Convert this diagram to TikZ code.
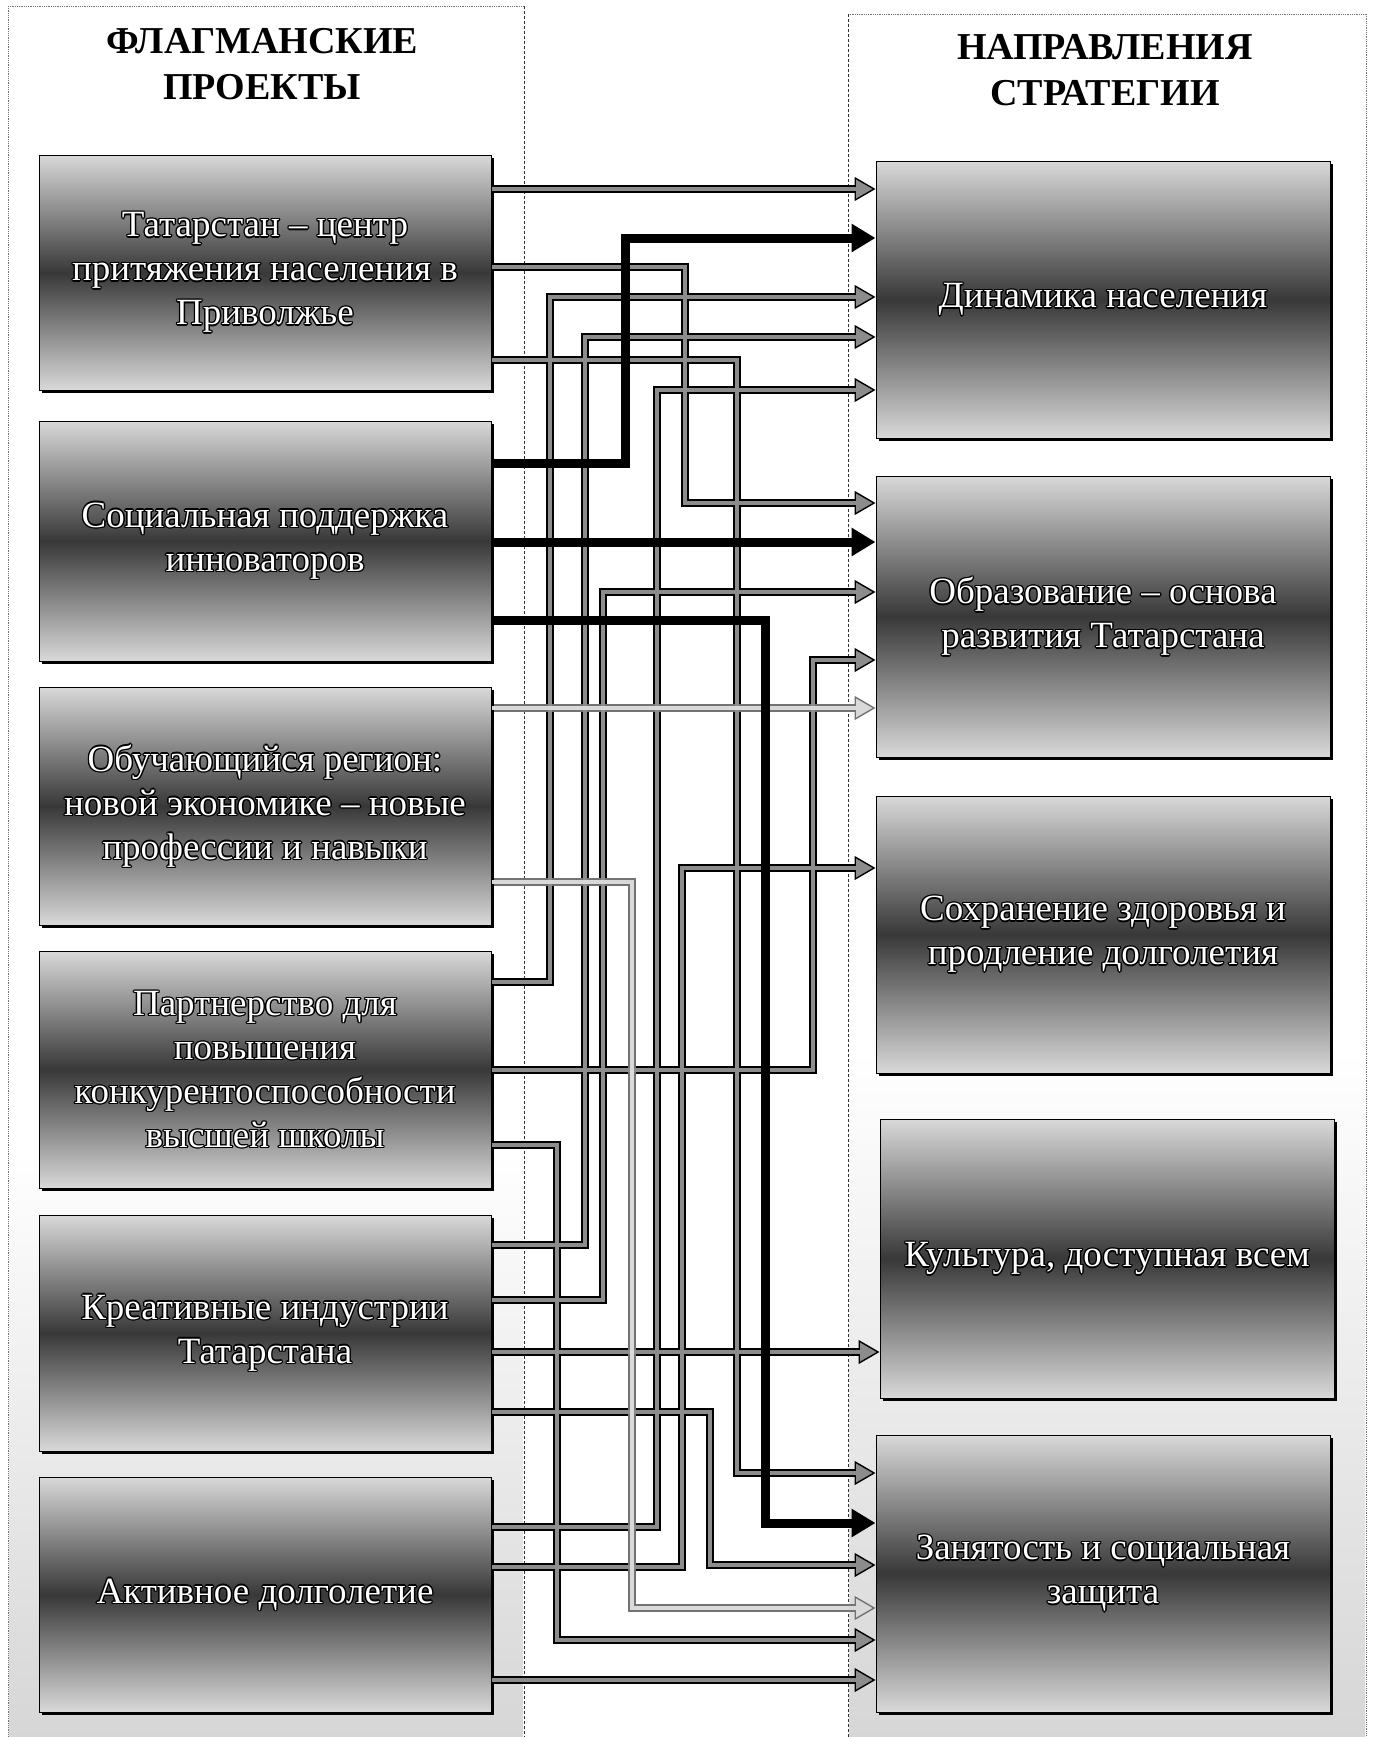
\documentclass[tikz,border=0pt]{standalone}
\usepackage{fontspec}
\setmainfont{Liberation Serif}
\usetikzlibrary{arrows.meta,shadows}
\pgfdeclarelayer{bg}
\pgfdeclarelayer{cb}
\pgfsetlayers{bg,cb,main}
\newlength\otw
\setlength\otw{1.4pt}
\newcommand\otxc[3]{\rlap{\hspace*{#1}\raisebox{#2}{\textcolor{black}{#3}}}}
\newcommand\otx[1]{\otxc{\otw}{0pt}{#1}\otxc{-\otw}{0pt}{#1}\otxc{0pt}{\otw}{#1}\otxc{0pt}{-\otw}{#1}%
\otxc{.7\otw}{.7\otw}{#1}\otxc{-.7\otw}{.7\otw}{#1}\otxc{.7\otw}{-.7\otw}{#1}\otxc{-.7\otw}{-.7\otw}{#1}%
\textcolor{white}{#1}}
\newcommand\gcon[2]{\begin{pgfonlayer}{cb}\draw[#1bord] #2;\end{pgfonlayer}\draw[#1inner] #2;}
\begin{document}
\begin{tikzpicture}[x=1pt,y=-1pt,
  box/.style={draw=black, line width=1pt, top color=black!15, bottom color=black!15, middle color=black!78,
    drop shadow={shadow xshift=3pt, shadow yshift=-3pt, fill=black, opacity=1},
    align=center, font=\fontsize{37}{44}\selectfont, inner sep=4pt},
  lbox/.style={box, minimum width=452pt},
  rbox/.style={box, minimum width=454pt},
  head/.style={align=center, font=\bfseries\fontsize{38}{46}\selectfont},
  frm/.style={draw=black!55, densely dotted, line width=0.8pt},
  midl/.style={draw=black!80, densely dashed, line width=0.9pt},
  gbord/.style={draw=black, line width=8pt, -{Triangle[length=21pt,width=24pt,fill=black!45,line width=1.4pt]}},
  ginner/.style={draw=black!45, line width=4pt, shorten >=19pt},
  lbord/.style={draw=black!55, line width=8pt, -{Triangle[length=21pt,width=24pt,fill=black!15,line width=1.4pt]}},
  linner/.style={draw=black!15, line width=4pt, shorten >=19pt},
  thk/.style={draw=black, line width=9pt, -{Triangle[length=24pt,width=27pt]}}
]
\useasboundingbox (0,0) rectangle (1373,1737);
\begin{pgfonlayer}{bg}
  \fill[white] (0,0) rectangle (1373,1737);
  \shade[top color=white, bottom color=black!16] (9,1150) rectangle (523,1737);
  \shade[top color=white, bottom color=black!16] (849,1050) rectangle (1365,1737);
  \draw[frm] (8,6) -- (524,6);
  \draw[frm] (8,6) -- (8,1737);
  \draw[midl] (524,6) -- (524,1737);
  \draw[frm] (848,14) -- (1366,14);
  \draw[midl] (848,14) -- (848,1737);
  \draw[frm] (1366,14) -- (1366,1737);
\end{pgfonlayer}

\node[head] (hl) at (262,64) {ФЛАГМАНСКИЕ\\ПРОЕКТЫ};
\node[head] (hr) at (1105,70) {НАПРАВЛЕНИЯ\\СТРАТЕГИИ};

\node[lbox, minimum height=235pt] (L1) at (265,272.5) {\otx{Татарстан – центр}\\\otx{притяжения населения в}\\\otx{Приволжье}};
\node[lbox, minimum height=240pt] (L2) at (265,541) {\otx{Социальная поддержка}\\\otx{инноваторов}};
\node[lbox, minimum height=238pt] (L3) at (265,806) {\otx{Обучающийся регион:}\\\otx{новой экономике – новые}\\\otx{профессии и навыки}};
\node[lbox, minimum height=237pt] (L4) at (265,1069.5) {\otx{Партнерство для}\\\otx{повышения}\\\otx{конкурентоспособности}\\\otx{высшей школы}};
\node[lbox, minimum height=236pt] (L5) at (265,1333) {\otx{Креативные индустрии}\\\otx{Татарстана}};
\node[lbox, minimum height=235pt] (L6) at (265,1594.5) {\otx{Активное долголетие}};

\node[rbox, minimum height=277pt] (R1) at (1103,299.5) {\otx{Динамика населения}};
\node[rbox, minimum height=281pt] (R2) at (1103,616.5) {\otx{Образование – основа}\\\otx{развития Татарстана}};
\node[rbox, minimum height=277pt] (R3) at (1103,934.5) {\otx{Сохранение здоровья и}\\\otx{продление долголетия}};
\node[rbox, minimum height=279pt] (R4) at (1107,1258.5) {\otx{Культура, доступная всем}};
\node[rbox, minimum height=277pt] (R5) at (1103,1573.5) {\otx{Занятость и социальная}\\\otx{защита}};

% gray connectors
\gcon{g}{(L1.east |- 0,189) -- (R1.west |- 0,189)}
\gcon{g}{(L1.east |- 0,267) -| (685,503) -- (R2.west |- 0,503)}
\gcon{g}{(L4.east |- 0,982) -| (550,297) -- (R1.west |- 0,297)}
\gcon{g}{(L5.east |- 0,1245) -| (585,337) -- (R1.west |- 0,337)}
\gcon{g}{(L1.east |- 0,360) -| (737,1473) -- (R5.west |- 0,1473)}
\gcon{g}{(L6.east |- 0,1527) -| (657,390) -- (R1.west |- 0,390)}
\gcon{g}{(L5.east |- 0,1300) -| (603,592) -- (R2.west |- 0,592)}
\gcon{g}{(L4.east |- 0,1070) -| (813,660) -- (R2.west |- 0,660)}
\gcon{g}{(L6.east |- 0,1567) -| (682,868) -- (R3.west |- 0,868)}
\gcon{g}{(L4.east |- 0,1145) -| (557,1640) -- (R5.west |- 0,1640)}
\gcon{g}{(L5.east |- 0,1352) -- (R4.west |- 0,1352)}
\gcon{g}{(L5.east |- 0,1412) -| (710,1565) -- (R5.west |- 0,1565)}
\gcon{g}{(L6.east |- 0,1680) -- (R5.west |- 0,1680)}
% light connectors
\gcon{l}{(L3.east |- 0,708) -- (R2.west |- 0,708)}
\gcon{l}{(L3.east |- 0,882) -| (632,1608) -- (R5.west |- 0,1608)}
% thick black connectors
\draw[thk] (L2.east |- 0,463) -| (625,238) -- (R1.west |- 0,238);
\draw[thk] (L2.east |- 0,542) -- (R2.west |- 0,542);
\draw[thk] (L2.east |- 0,620) -| (765,1523) -- (R5.west |- 0,1523);
\end{tikzpicture}
\end{document}
